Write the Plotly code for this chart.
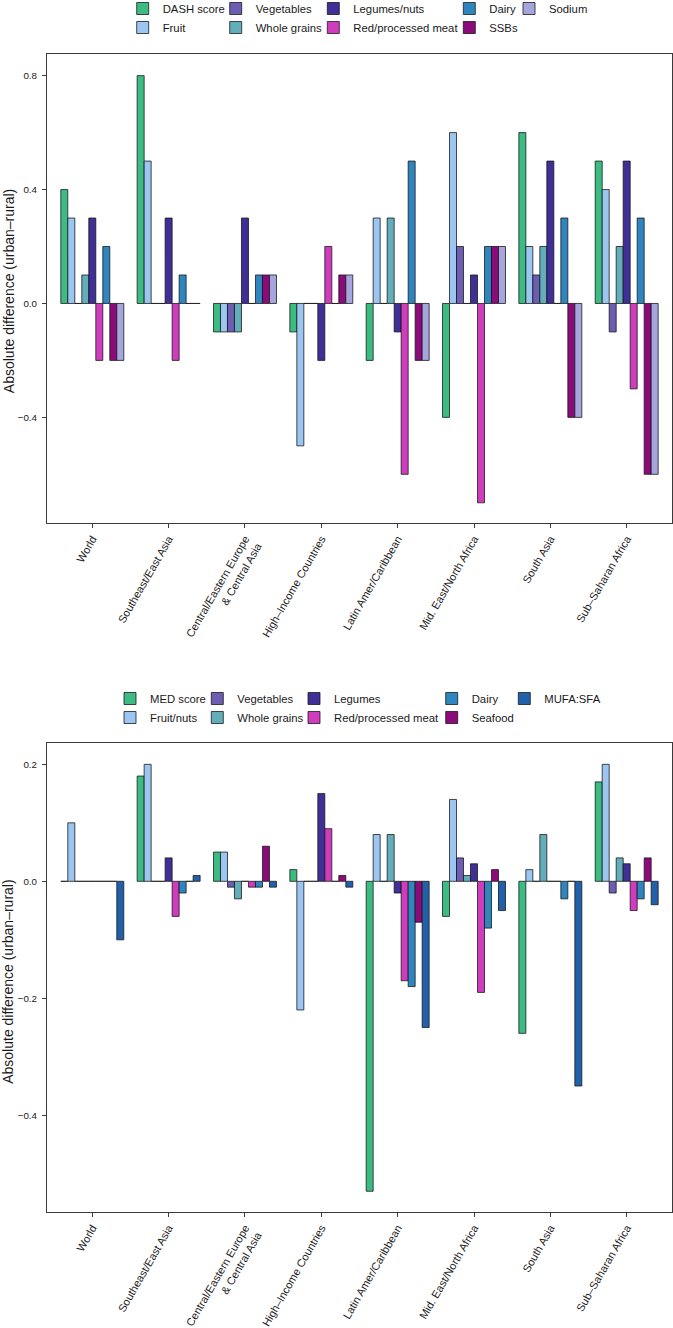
import plotly.graph_objects as go

W, H = 673, 1328

regions = ["World", "Southeast/East Asia", "Central/Eastern Europe<br>& Central Asia",
           "High–Income Countries", "Latin Amer/Caribbean", "Mid. East/North Africa",
           "South Asia", "Sub–Saharan Africa"]

# ---- DASH panel ----
dash_names = ["DASH score", "Fruit", "Vegetables", "Whole grains", "Legumes/nuts",
              "Red/processed meat", "Dairy", "SSBs", "Sodium"]
dash_score = [0.4, 0.8, -0.1, -0.1, -0.2, -0.4, 0.6, 0.5]
dash_fruit = [0.3, 0.5, -0.1, -0.5, 0.3, 0.6, 0.2, 0.4]
dash_veg = [0.0, 0.0, -0.1, 0.0, 0.0, 0.2, 0.1, -0.1]
dash_wg = [0.1, 0.0, -0.1, 0.0, 0.3, 0.0, 0.2, 0.2]
dash_leg = [0.3, 0.3, 0.3, -0.2, -0.1, 0.1, 0.5, 0.5]
dash_red = [-0.2, -0.2, 0.0, 0.2, -0.6, -0.7, 0.0, -0.3]
dash_dairy = [0.2, 0.1, 0.1, 0.0, 0.5, 0.2, 0.3, 0.3]
dash_ssb = [-0.2, 0.0, 0.1, 0.1, -0.2, 0.2, -0.4, -0.6]
dash_sodium = [-0.2, 0.0, 0.1, 0.1, -0.2, 0.2, -0.4, -0.6]
dash_values = [dash_score, dash_fruit, dash_veg, dash_wg, dash_leg, dash_red,
               dash_dairy, dash_ssb, dash_sodium]
dash_colors = ["#3CBC82", "#9CC6F2", "#6D5DB3", "#62AEBB", "#3F2F97",
               "#CF3DBE", "#2F86BF", "#8B0B7A", "#A7A5DD"]
dash_legend_cols = [0, 0, 1, 1, 2, 2, 3, 3, 4]

# ---- MED panel ----
med_names = ["MED score", "Fruit/nuts", "Vegetables", "Whole grains", "Legumes",
             "Red/processed meat", "Dairy", "Seafood", "MUFA:SFA"]
med_score = [0.0, 0.18, 0.05, 0.02, -0.53, -0.06, -0.26, 0.17]
med_fruitnuts = [0.1, 0.2, 0.05, -0.22, 0.08, 0.14, 0.02, 0.2]
med_veg = [0.0, 0.0, -0.01, 0.0, 0.0, 0.04, 0.0, -0.02]
med_wg = [0.0, 0.0, -0.03, 0.0, 0.08, 0.01, 0.08, 0.04]
med_leg = [0.0, 0.04, 0.0, 0.15, -0.02, 0.03, 0.0, 0.03]
med_red = [0.0, -0.06, -0.01, 0.09, -0.17, -0.19, 0.0, -0.05]
med_dairy = [0.0, -0.02, -0.01, 0.0, -0.18, -0.08, -0.03, -0.03]
med_seafood = [0.0, 0.0, 0.06, 0.01, -0.07, 0.02, 0.0, 0.04]
med_mufa = [-0.1, 0.01, -0.01, -0.01, -0.25, -0.05, -0.35, -0.04]
med_values = [med_score, med_fruitnuts, med_veg, med_wg, med_leg, med_red,
              med_dairy, med_seafood, med_mufa]
med_colors = ["#3CBC82", "#9CC6F2", "#6D5DB3", "#62AEBB", "#3F2F97",
              "#CF3DBE", "#2F86BF", "#8B0B7A", "#2260A9"]
med_legend_cols = [0, 0, 1, 1, 2, 2, 3, 3, 4]

y_title = "Absolute difference (urban–rural)"

FONT = "Liberation Sans, Arial, Helvetica, sans-serif"
TXT = "#1a1a1a"
LINE = "#3a3a3a"

fig = go.Figure()

for i, (name, vals, col) in enumerate(zip(dash_names, dash_values, dash_colors)):
    fig.add_trace(go.Bar(
        x=regions, y=vals, name=name, marker_color=col,
        marker_line_color="rgba(20,20,20,0.85)", marker_line_width=0.9,
        xaxis="x", yaxis="y", offsetgroup=str(i),
        legend="legend" if dash_legend_cols[i] == 0 else "legend%d" % (dash_legend_cols[i] + 1),
    ))

for i, (name, vals, col) in enumerate(zip(med_names, med_values, med_colors)):
    fig.add_trace(go.Bar(
        x=regions, y=vals, name=name, marker_color=col,
        marker_line_color="rgba(20,20,20,0.85)", marker_line_width=0.9,
        xaxis="x2", yaxis="y2", offsetgroup=str(i),
        legend="legend%d" % (med_legend_cols[i] + 6),
    ))

# geometry (px)
left, right = 47, 672
top1, bot1 = 54, 523.3
top2, bot2 = 743.3, 1212.3
c0, step = 92.3, 76.34
xr = [(left - c0) / step, (right - c0) / step]

axis_common = dict(showline=True, mirror=True, linecolor=LINE, linewidth=1,
                   ticks="outside", ticklen=4, tickcolor=LINE, tickwidth=1,
                   showgrid=False, zeroline=False, automargin=False)

xcommon = dict(axis_common, type="category", categoryorder="array",
               categoryarray=regions, range=xr, tickangle=-60,
               tickfont=dict(family=FONT, size=11, color=TXT),
               domain=[left / W, right / W])
ycommon = dict(axis_common, tickformat=".1f", tick0=0, ticklabelstandoff=3,
               tickfont=dict(family=FONT, size=9.8, color=TXT))

fig.update_layout(
    width=W, height=H,
    margin=dict(l=0, r=0, t=0, b=0, autoexpand=False),
    paper_bgcolor="white", plot_bgcolor="white",
    barmode="group", bargap=0.175, bargroupgap=0,
    font=dict(family=FONT, size=11, color=TXT),
    xaxis=dict(xcommon, anchor="y"),
    xaxis2=dict(xcommon, anchor="y2"),
    yaxis=dict(ycommon, anchor="x", range=[-0.772, 0.876], dtick=0.4,
               domain=[1 - bot1 / H, 1 - top1 / H]),
    yaxis2=dict(ycommon, anchor="x2", range=[-0.566, 0.236], dtick=0.2,
                domain=[1 - bot2 / H, 1 - top2 / H]),
    showlegend=True,
)

# y-axis titles as rotated text
for yc in [(top1 + bot1) / 2 + 3, (top2 + bot2) / 2 + 4.5]:
    fig.add_annotation(text=y_title, xref="paper", yref="paper",
                       x=8.5 / W, y=1 - yc / H, xanchor="center", yanchor="middle",
                       textangle=-90, showarrow=False,
                       font=dict(family=FONT, size=14, color=TXT))

# legends: text start x positions (px) and top y positions (px)
top_text_x = [162.7, 255.7, 353.3, 489.3, 549.0]
bot_text_x = [150.0, 237.3, 334.0, 471.7, 544.3]
leg_top_y = [-6, 684]
lkeys = ["legend"] + ["legend%d" % k for k in range(2, 11)]
for k, key in enumerate(lkeys):
    panel = 0 if k < 5 else 1
    tx = (top_text_x if panel == 0 else bot_text_x)[k % 5]
    fig.update_layout({key: dict(
        x=(tx - 40) / W, xanchor="left",
        y=1 - leg_top_y[panel] / H, yanchor="top",
        orientation="v", bgcolor="rgba(0,0,0,0)", borderwidth=0,
        font=dict(family=FONT, size=11.3, color=TXT),
        tracegroupgap=0, itemclick=False, itemdoubleclick=False,
    )})

fig.write_html("out.html", config={"displayModeBar": False},
               post_script="document.body.style.margin='0';")
